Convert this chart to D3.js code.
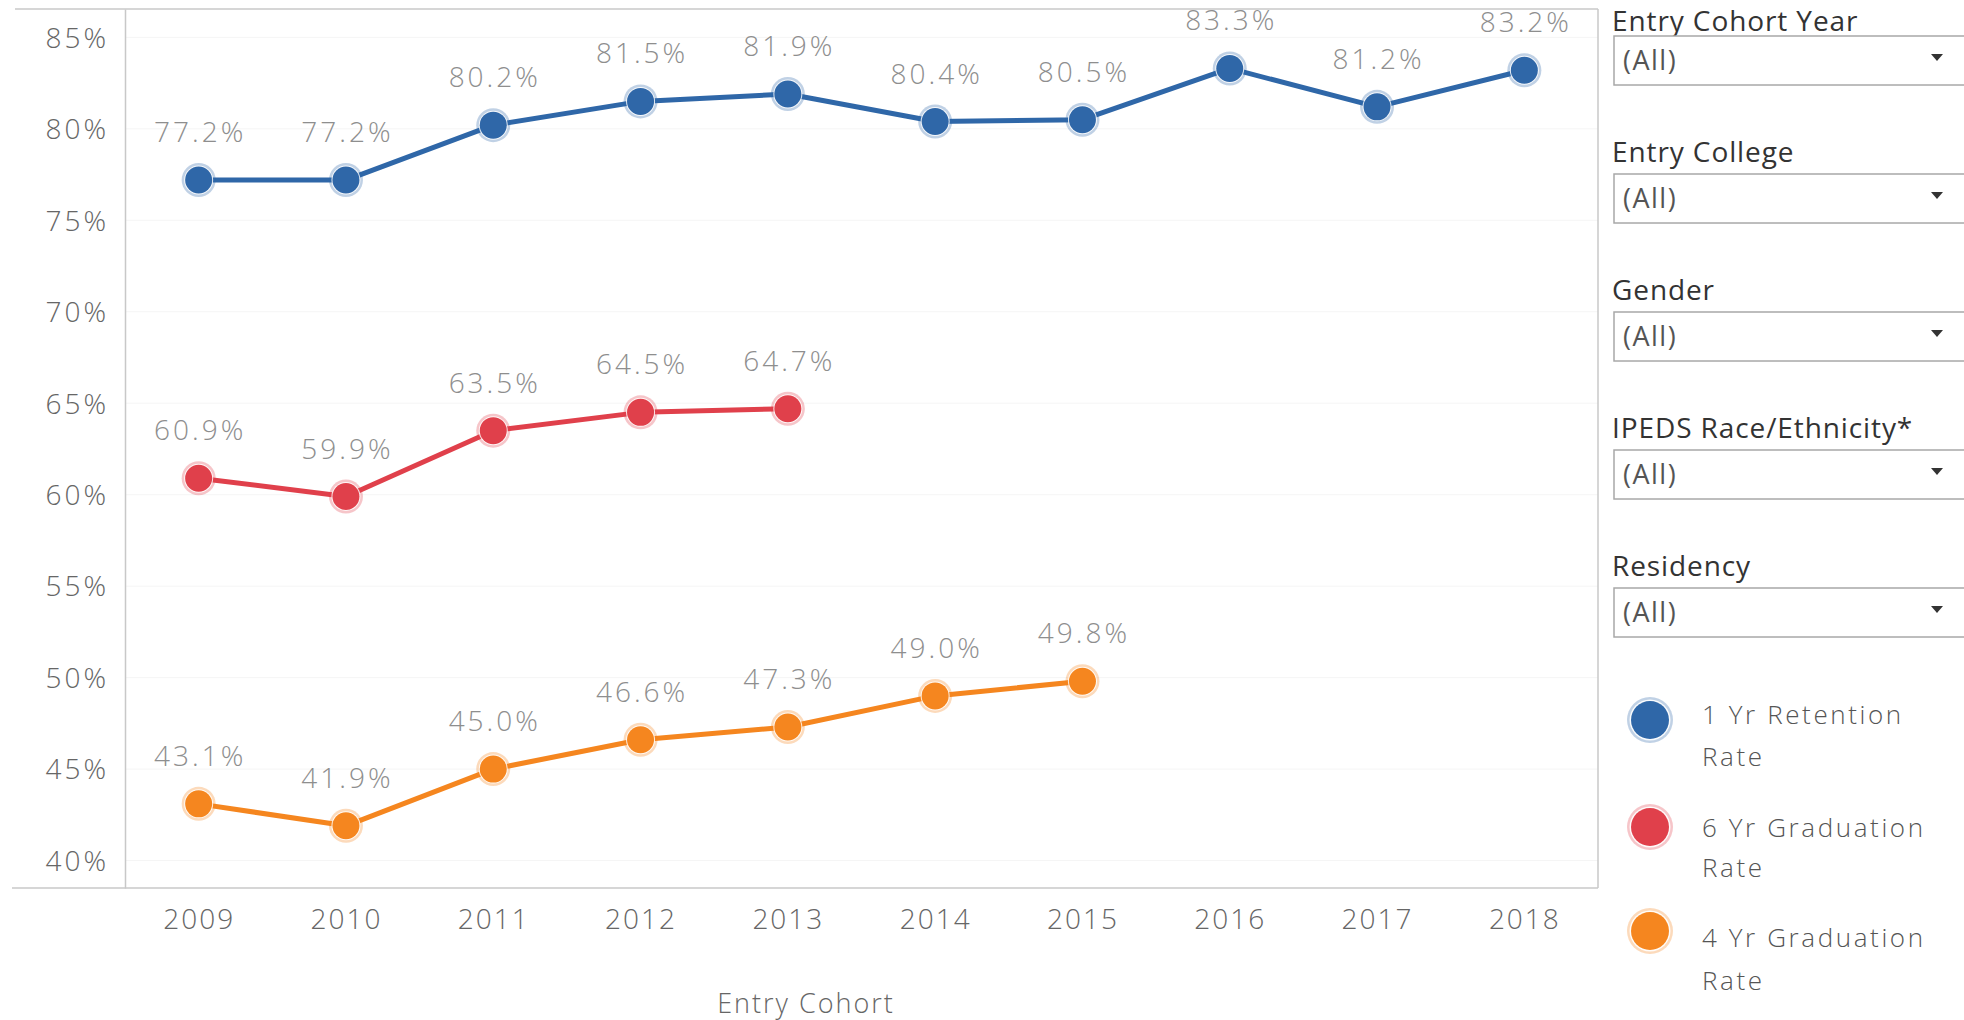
<!DOCTYPE html>
<html>
<head>
<meta charset="utf-8">
<script src="https://cdn.jsdelivr.net/npm/d3@7"></script>
<style>
  html, body { margin: 0; padding: 0; background: #fff; }
  svg { display: block; }
</style>
</head>
<body>
<svg id="chart" width="1964" height="1020"></svg>
<script>
// Entry cohorts on the x axis
const years = [2009, 2010, 2011, 2012, 2013, 2014, 2015, 2016, 2017, 2018];

// Rates (%) per cohort; later cohorts have no graduation rate yet
const retention1Yr = [77.2, 77.2, 80.2, 81.5, 81.9, 80.4, 80.5, 83.3, 81.2, 83.2];
const graduation6Yr = [60.9, 59.9, 63.5, 64.5, 64.7];
const graduation4Yr = [43.1, 41.9, 45.0, 46.6, 47.3, 49.0, 49.8];

const yTicks = [40, 45, 50, 55, 60, 65, 70, 75, 80, 85];

const seriesNames = ["1 Yr Retention Rate", "6 Yr Graduation Rate", "4 Yr Graduation Rate"];
const seriesColors = ["#2f67a8", "#e0404b", "#f5861f"];
const seriesValues = [retention1Yr, graduation6Yr, graduation4Yr];

const filterTitles = ["Entry Cohort Year", "Entry College", "Gender", "IPEDS Race/Ethnicity*", "Residency"];
const filterValue = "(All)";

const svg = d3.select("#chart");

const plot = { left: 125, right: 1598, top: 9, bottom: 888 };

const x = d3.scalePoint()
  .domain(years)
  .range([plot.left, plot.right])
  .padding(0.5);

const y = d3.scaleLinear()
  .domain([38.5, 86.55])
  .range([plot.bottom, plot.top]);

const chartFont = "'Open Sans', 'Noto Sans', sans-serif";

// faint horizontal grid
svg.append("g")
  .selectAll("line")
  .data(yTicks)
  .join("line")
  .attr("x1", plot.left).attr("x2", plot.right)
  .attr("y1", d => y(d)).attr("y2", d => y(d))
  .attr("stroke", "#f5f5f5")
  .attr("stroke-width", 1);

// frame
svg.append("line")
  .attr("x1", 15).attr("x2", plot.right)
  .attr("y1", plot.top).attr("y2", plot.top)
  .attr("stroke", "#c8c8c8").attr("stroke-width", 1.5);
svg.append("line")
  .attr("x1", plot.right).attr("x2", plot.right)
  .attr("y1", plot.top).attr("y2", plot.bottom)
  .attr("stroke", "#c8c8c8").attr("stroke-width", 1.5);

// y axis
const yAxis = svg.append("g")
  .attr("transform", `translate(${plot.left},0)`)
  .call(d3.axisLeft(y).tickValues(yTicks).tickSize(0).tickPadding(16).tickFormat(d => d + "%"));
yAxis.select(".domain").attr("stroke", "#c8c8c8").attr("stroke-width", 1.5);
yAxis.selectAll("text")
  .attr("font-family", chartFont)
  .attr("font-weight", 300)
  .attr("font-size", 28)
  .attr("letter-spacing", 3)
  .attr("fill", "#666")
  .attr("dy", "0.35em");

// x axis
const xAxis = svg.append("g")
  .attr("transform", `translate(0,${plot.bottom})`)
  .call(d3.axisBottom(x).tickSize(0).tickPadding(21));
xAxis.select(".domain").remove();
svg.append("line")
  .attr("x1", 12).attr("x2", plot.right)
  .attr("y1", plot.bottom).attr("y2", plot.bottom)
  .attr("stroke", "#c8c8c8").attr("stroke-width", 1.5);
xAxis.selectAll("text")
  .attr("font-family", chartFont)
  .attr("font-weight", 300)
  .attr("font-size", 28)
  .attr("letter-spacing", 2)
  .attr("fill", "#666");

svg.append("text")
  .attr("x", 806).attr("y", 1004)
  .attr("text-anchor", "middle")
  .attr("dy", "0.35em")
  .attr("font-family", chartFont)
  .attr("font-weight", 300)
  .attr("font-size", 27)
  .attr("letter-spacing", 2)
  .attr("fill", "#666")
  .text("Entry Cohort");

// lines, markers and value labels
const line = d3.line()
  .x((d, i) => x(years[i]))
  .y(d => y(d));

seriesValues.forEach((vals, s) => {
  const color = seriesColors[s];
  const g = svg.append("g");
  g.append("path")
    .datum(vals)
    .attr("d", line)
    .attr("fill", "none")
    .attr("stroke", color)
    .attr("stroke-width", 5)
    .attr("stroke-linejoin", "round");

  const pts = g.selectAll("g.pt")
    .data(vals)
    .join("g")
    .attr("class", "pt")
    .attr("transform", (d, i) => `translate(${x(years[i])},${y(d)})`);
  pts.append("circle")
    .attr("r", 17)
    .attr("fill", color)
    .attr("opacity", 0.3);
  pts.append("circle")
    .attr("r", 14.5)
    .attr("fill", "#fff")
    .attr("opacity", 0.85);
  pts.append("circle")
    .attr("r", 13.5)
    .attr("fill", color);

  g.selectAll("text.val")
    .data(vals)
    .join("text")
    .attr("class", "val")
    .attr("x", (d, i) => x(years[i]) + 1.5)
    .attr("y", d => y(d) - 38)
    .attr("text-anchor", "middle")
    .attr("font-family", chartFont)
    .attr("font-weight", 300)
    .attr("font-size", 28)
    .attr("letter-spacing", 3)
    .attr("fill", "#8e8e8e")
    .text(d => d.toFixed(1) + "%");
});

// filter controls
const filters = svg.append("g");
filterTitles.forEach((t, i) => {
  const top = 36 + i * 138;
  filters.append("text")
    .attr("x", 1612).attr("y", i === 0 ? 21 : top - 22)
    .attr("dy", "0.35em")
    .attr("font-family", chartFont)
    .attr("font-size", 28)
    .attr("letter-spacing", 0.9)
    .attr("fill", "#333")
    .text(t);
  filters.append("rect")
    .attr("x", 1614).attr("y", top)
    .attr("width", 380).attr("height", 49)
    .attr("fill", "#fff")
    .attr("stroke", "#a8a8a8")
    .attr("stroke-width", 1.5);
  filters.append("text")
    .attr("x", 1623).attr("y", top + 25)
    .attr("dy", "0.35em")
    .attr("font-family", chartFont)
    .attr("font-size", 27)
    .attr("letter-spacing", 1.5)
    .attr("fill", "#555")
    .text(filterValue);
  filters.append("path")
    .attr("d", `M${1931},${top + 18} L${1943},${top + 18} L${1937},${top + 25} Z`)
    .attr("fill", "#333");
});

// color legend
const legendRows = [
  { cy: 720, lines: ["1 Yr Retention", "Rate"], ty: [715, 757] },
  { cy: 827, lines: ["6 Yr Graduation", "Rate"], ty: [828, 868] },
  { cy: 931, lines: ["4 Yr Graduation", "Rate"], ty: [938, 981] }
];
const legend = svg.append("g");
legendRows.forEach((row, i) => {
  const color = seriesColors[i];
  const lg = legend.append("g").attr("transform", `translate(1650,${row.cy})`);
  lg.append("circle").attr("r", 23).attr("fill", color).attr("opacity", 0.3);
  lg.append("circle").attr("r", 20.5).attr("fill", "#fff").attr("opacity", 0.9);
  lg.append("circle").attr("r", 19).attr("fill", color);
  row.lines.forEach((l, k) => {
    legend.append("text")
      .attr("x", 1702).attr("y", row.ty[k])
      .attr("dy", "0.35em")
      .attr("font-family", chartFont)
      .attr("font-weight", 300)
      .attr("font-size", 26)
      .attr("letter-spacing", 2.6)
      .attr("fill", "#555")
      .text(l);
  });
});
</script>
</body>
</html>
